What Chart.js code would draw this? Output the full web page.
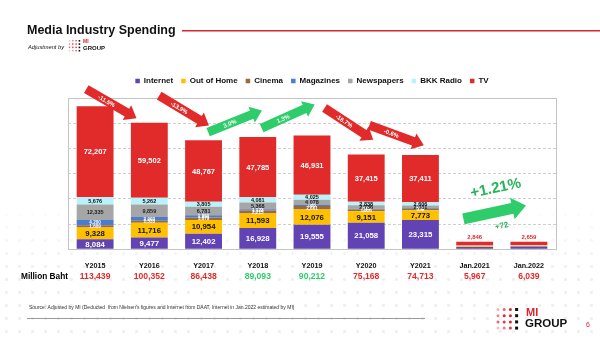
<!DOCTYPE html>
<html>
<head>
<meta charset="utf-8">
<script src="https://cdn.jsdelivr.net/npm/chart.js@4.4.1/dist/chart.umd.min.js"></script>
<style>
  html, body { margin: 0; padding: 0; background: #fff; }
  body { width: 600px; height: 338px; position: relative; overflow: hidden; }
  #dots {
    position: absolute; left: 0; top: 0; width: 600px; height: 338px;
    background-image: radial-gradient(circle, #efefef 1.3px, transparent 1.7px);
    background-size: 13px 13px;
    -webkit-mask-image: linear-gradient(to bottom, transparent 58%, #000 82%);
    mask-image: linear-gradient(to bottom, transparent 58%, #000 82%);
  }
  #spend { position: absolute; left: 0; top: 0; }
</style>
</head>
<body>
<div id="dots"></div>
<canvas id="spend" width="600" height="338"></canvas>
<script>
/* ── Media spending, million baht ───────────────────────── */
const categories = ['Y2015', 'Y2016', 'Y2017', 'Y2018', 'Y2019', 'Y2020', 'Y2021', 'Jan.2021', 'Jan.2022'];
const internet   = [8084, 9477, 12402, 16928, 19555, 21058, 23315, 1850, 2200];
const outOfHome  = [9328, 11716, 10954, 11593, 12076, 9151, 7773, 560, 600];
const cinema     = [1609, 1533, 1879, 2215, 2661, 1356, 959, 60, 50];
const magazines  = [4200, 3003, 1850, 1123, 886, 614, 568, 60, 40];
const newspapers = [12335, 9859, 6781, 5368, 4078, 2736, 2081, 300, 250];
const bkkRadio   = [5676, 5262, 3805, 4081, 4025, 2838, 2606, 291, 240];
const tv         = [72207, 59502, 48767, 47785, 46931, 37415, 37411, 2846, 2659];

// year-on-year change between neighbouring bars
const yoyChange  = ['-11.5%', '-13.9%', '3.0%', '1.3%', '-16.7%', '-0.6%'];
const janChange  = '+1.21%';
const janDiff    = '+72';

const yTicks = [0, 20000, 40000, 60000, 80000, 100000, 120000];

const FONT  = '"Liberation Sans", Arial, sans-serif';
const RED   = '#e12b2b';
const GREEN = '#2ecc6b';

const series = [
  { label: 'Internet',    data: internet,   color: '#6143b4' },
  { label: 'Out of Home', data: outOfHome,  color: '#ffc000' },
  { label: 'Cinema',      data: cinema,     color: '#9b6a3a' },
  { label: 'Magazines',   data: magazines,  color: '#4a7dd2' },
  { label: 'Newspapers',  data: newspapers, color: '#a6a6a6' },
  { label: 'BKK Radio',   data: bkkRadio,   color: '#b8f3fb' },
  { label: 'TV',          data: tv,         color: '#e12b2b' }
];

// label look for each stack segment, same order as series
const segText = [
  { size: 7.8, color: '#fff' },
  { size: 7.8, color: '#111' },
  { size: 4.6, color: '#fff' },
  { size: 4.6, color: '#fff' },
  { size: 5.5, color: '#222' },
  { size: 5.5, color: '#111' },
  { size: 7.5, color: '#fff' }
];
const totalColors = [RED, RED, RED, GREEN, GREEN, RED, RED, RED, RED];

// arrow placement: category position, value height, tilt (deg)
const arrowAt = [
  { x: 0.30, y: 115500, a: 30 },
  { x: 1.64, y: 110000, a: 31 },
  { x: 2.58, y: 101500, a: -22 },
  { x: 3.56, y: 105500, a: -24 },
  { x: 4.68, y: 99500,  a: 33 },
  { x: 5.56, y: 90500,  a: 20 }
];
const bigArrowAt = { x: 7.37, y: 29500, a: -12 };

const fmt = v => v.toLocaleString('en-US');
const totals = categories.map((_, i) => series.reduce((s, d) => s + d.data[i], 0));

function arrow(ctx, cx, cy, deg, len, body, head, headLen, color, text, textSize) {
  ctx.save();
  ctx.translate(cx, cy);
  ctx.rotate(deg * Math.PI / 180);
  const h = len / 2;
  ctx.beginPath();
  ctx.moveTo(-h, -body / 2);
  ctx.lineTo(h - headLen, -body / 2);
  ctx.lineTo(h - headLen, -head / 2);
  ctx.lineTo(h, 0);
  ctx.lineTo(h - headLen, head / 2);
  ctx.lineTo(h - headLen, body / 2);
  ctx.lineTo(-h, body / 2);
  ctx.closePath();
  ctx.fillStyle = color;
  ctx.fill();
  if (text) {
    ctx.fillStyle = '#fff';
    ctx.font = `bold ${textSize}px ${FONT}`;
    ctx.textAlign = 'center';
    ctx.textBaseline = 'middle';
    ctx.fillText(text, -headLen / 2, 0.5);
  }
  ctx.restore();
}

function dotLogo(ctx, x, y, step, r, sq) {
  const alpha = [[0.35, 0.7, 1], [0.55, 1, 1], [0.7, 0.9, 1], [0.3, 0.6, 0.9]];
  for (let row = 0; row < 4; row++) {
    for (let col = 0; col < 3; col++) {
      ctx.fillStyle = `rgba(225,35,45,${alpha[row][col]})`;
      ctx.beginPath();
      ctx.arc(x + col * step, y + row * step, r, 0, Math.PI * 2);
      ctx.fill();
    }
    ctx.fillStyle = '#111';
    ctx.fillRect(x + 3 * step - sq / 2, y + row * step - sq / 2, sq, sq);
  }
}

// the legend sits a touch higher than Chart.js puts it
const legendGap = {
  id: 'legendGap',
  beforeInit(chart) {
    const fit = chart.legend.fit;
    chart.legend.fit = function () { fit.call(this); this.height += 3; };
  }
};

const frame = {
  id: 'frame',
  beforeDatasetsDraw(chart) {
    const { ctx, chartArea: a } = chart;
    ctx.save();
    ctx.strokeStyle = '#c4c4c4';
    ctx.lineWidth = 1;
    ctx.strokeRect(Math.round(a.left) + 0.5, Math.round(a.top) + 0.5,
                   Math.round(a.right - a.left), Math.round(a.bottom - a.top));
    ctx.restore();
  }
};

const decor = {
  id: 'decor',
  afterDraw(chart) {
    const { ctx } = chart;
    const xs = chart.scales.x, ys = chart.scales.y;
    ctx.save();
    ctx.textAlign = 'center';
    ctx.textBaseline = 'middle';

    // values inside the stacks
    chart.data.datasets.forEach((ds, di) => {
      const meta = chart.getDatasetMeta(di);
      meta.data.forEach((bar, i) => {
        if (i >= 7) {
          if (di === 6) {
            ctx.font = `bold 6px ${FONT}`;
            ctx.fillStyle = RED;
            ctx.fillText(fmt(ds.data[i]), bar.x, bar.y - 4);
          }
          return;
        }
        const st = segText[di];
        ctx.font = `bold ${st.size}px ${FONT}`;
        ctx.fillStyle = st.color;
        ctx.fillText(fmt(ds.data[i]), bar.x, (bar.y + bar.base) / 2 + 0.5);
      });
    });

    // totals row
    ctx.textAlign = 'left';
    ctx.font = `bold 8.3px ${FONT}`;
    ctx.fillStyle = '#000';
    ctx.fillText('Million Baht', 21, 277);
    ctx.textAlign = 'center';
    ctx.font = `bold 8.6px ${FONT}`;
    totals.forEach((t, i) => {
      ctx.fillStyle = totalColors[i];
      ctx.fillText(fmt(t), xs.getPixelForValue(i), 277);
    });

    // change arrows
    arrowAt.forEach((p, i) => {
      const up = !yoyChange[i].startsWith('-');
      arrow(ctx, xs.getPixelForValue(p.x), ys.getPixelForValue(p.y), p.a,
            58, 9, 17, 11, up ? GREEN : RED, yoyChange[i], 6);
    });
    const bx = xs.getPixelForValue(bigArrowAt.x), by = ys.getPixelForValue(bigArrowAt.y);
    arrow(ctx, bx, by, bigArrowAt.a, 64, 11, 22, 14, GREEN, '', 0);
    ctx.save();
    ctx.translate(bx, by);
    ctx.rotate(bigArrowAt.a * Math.PI / 180);
    ctx.fillStyle = '#27b45c';
    ctx.font = `bold 15px ${FONT}`;
    ctx.fillText(janChange, 6, -23);
    ctx.font = `bold 8px ${FONT}`;
    ctx.fillText(janDiff, 4, 15);
    ctx.restore();

    // heading
    ctx.textAlign = 'left';
    ctx.fillStyle = '#111';
    ctx.font = `bold 12.5px ${FONT}`;
    ctx.fillText('Media Industry Spending', 27, 30.5);
    ctx.fillStyle = '#d8262c';
    ctx.fillRect(182, 30, 418, 1.5);
    ctx.fillStyle = '#111';
    ctx.font = `italic 5.7px ${FONT}`;
    ctx.fillText('Adjustment by', 28, 47);
    dotLogo(ctx, 69.5, 40.8, 3.3, 0.8, 1.6);
    ctx.font = `bold 5px ${FONT}`;
    ctx.fillStyle = '#e1232d';
    ctx.fillText('MI', 83, 42);
    ctx.fillStyle = '#111';
    ctx.font = `bold 6px ${FONT}`;
    ctx.fillText('GROUP', 83, 48);

    // footer
    ctx.fillStyle = '#333';
    ctx.font = `5px ${FONT}`;
    ctx.fillText("Source: Adjusted by MI (Deducted  from Nielsen's figures and Internet from DAAT, Internet in Jan.2022 estimated by MI)", 29, 308);
    ctx.fillStyle = '#9a9a9a';
    ctx.fillRect(27, 318, 398, 1);
    dotLogo(ctx, 498, 309.5, 6.2, 1.5, 3);
    ctx.fillStyle = '#e1232d';
    ctx.font = `bold 11px ${FONT}`;
    ctx.fillText('MI', 526, 313);
    ctx.fillStyle = '#111';
    ctx.font = `bold 11.5px ${FONT}`;
    ctx.fillText('GROUP', 525, 324);
    ctx.fillStyle = '#e1232d';
    ctx.font = `7px ${FONT}`;
    ctx.fillText('6', 586, 325);
    ctx.restore();
  }
};

new Chart(document.getElementById('spend'), {
  type: 'bar',
  data: {
    labels: categories,
    datasets: series.map(s => ({
      label: s.label,
      data: s.data,
      backgroundColor: s.color,
      borderWidth: 0,
      categoryPercentage: 1,
      barPercentage: 0.68
    }))
  },
  options: {
    responsive: false,
    animation: false,
    events: [],
    layout: { padding: { top: 69, left: 68, right: 44, bottom: 64 } },
    plugins: {
      legend: {
        position: 'top',
        labels: {
          boxWidth: 4.5, boxHeight: 4.5, padding: 8,
          color: '#111',
          font: { family: FONT, size: 8, weight: 'bold' }
        }
      },
      tooltip: { enabled: false }
    },
    scales: {
      x: {
        stacked: true,
        grid: { display: false },
        border: { display: false },
        ticks: {
          color: '#111', padding: 4, maxRotation: 0, autoSkip: false,
          font: { family: FONT, size: 7.2, weight: 'bold' }
        }
      },
      y: {
        stacked: true,
        min: yTicks[0],
        max: yTicks[yTicks.length - 1],
        afterBuildTicks: scale => { scale.ticks = yTicks.map(v => ({ value: v })); },
        border: { display: false, dash: [3, 2] },
        grid: { color: '#cfcfcf', drawTicks: false },
        ticks: { display: false }
      }
    }
  },
  plugins: [legendGap, frame, decor]
});
</script>
</body>
</html>
